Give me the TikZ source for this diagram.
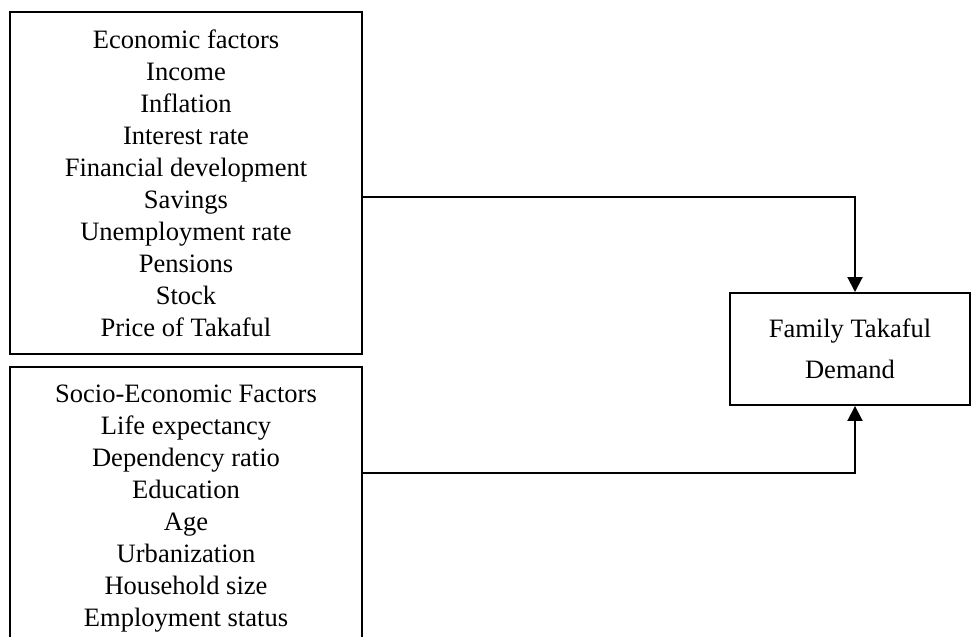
\documentclass[tikz,border=0pt]{standalone}
\usepackage{fontspec}
\setmainfont{Liberation Serif}
\usepackage{tikz}
\usetikzlibrary{arrows.meta,positioning}
\tikzset{
    factorbox/.style={draw=black,line width=1.1pt,align=center,minimum width=7.04cm,inner sep=0pt,font=\fontsize{15.1}{18.2}\selectfont},
    demandbox/.style={draw=black,line width=1.1pt,align=center,minimum width=4.8cm,minimum height=2.24cm,font=\fontsize{15.1}{23.3}\selectfont},
    myarrow/.style={line width=1.1pt,draw=black,-{Triangle[length=0.3cm,width=0.3cm]}}
}

\begin{document}
\begin{tikzpicture}
  \useasboundingbox (0,0) rectangle (19.42,12.74);
  \clip (0,0) rectangle (19.42,12.74);

  % factor boxes
  \node[factorbox,minimum height=6.84cm] (econ) at (3.72,9.08)
    {Economic factors\\Income\\Inflation\\Interest rate\\Financial development\\Savings\\Unemployment rate\\Pensions\\Stock\\Price of Takaful};
  \node[factorbox,minimum height=5.68cm,below=0.22cm of econ] (socio)
    {Socio-Economic Factors\\Life expectancy\\Dependency ratio\\Education\\Age\\Urbanization\\Household size\\Employment status};

  % demand
  \node[demandbox] (demand) at (17.0,5.76) {Family Takaful\\Demand};

  % links
  \draw[myarrow] ([yshift=-0.28cm]econ.east) -| ([xshift=0.1cm]demand.north);
  \draw[myarrow] ([yshift=0.72cm]socio.east) -| ([xshift=0.1cm]demand.south);
\end{tikzpicture}
\end{document}
